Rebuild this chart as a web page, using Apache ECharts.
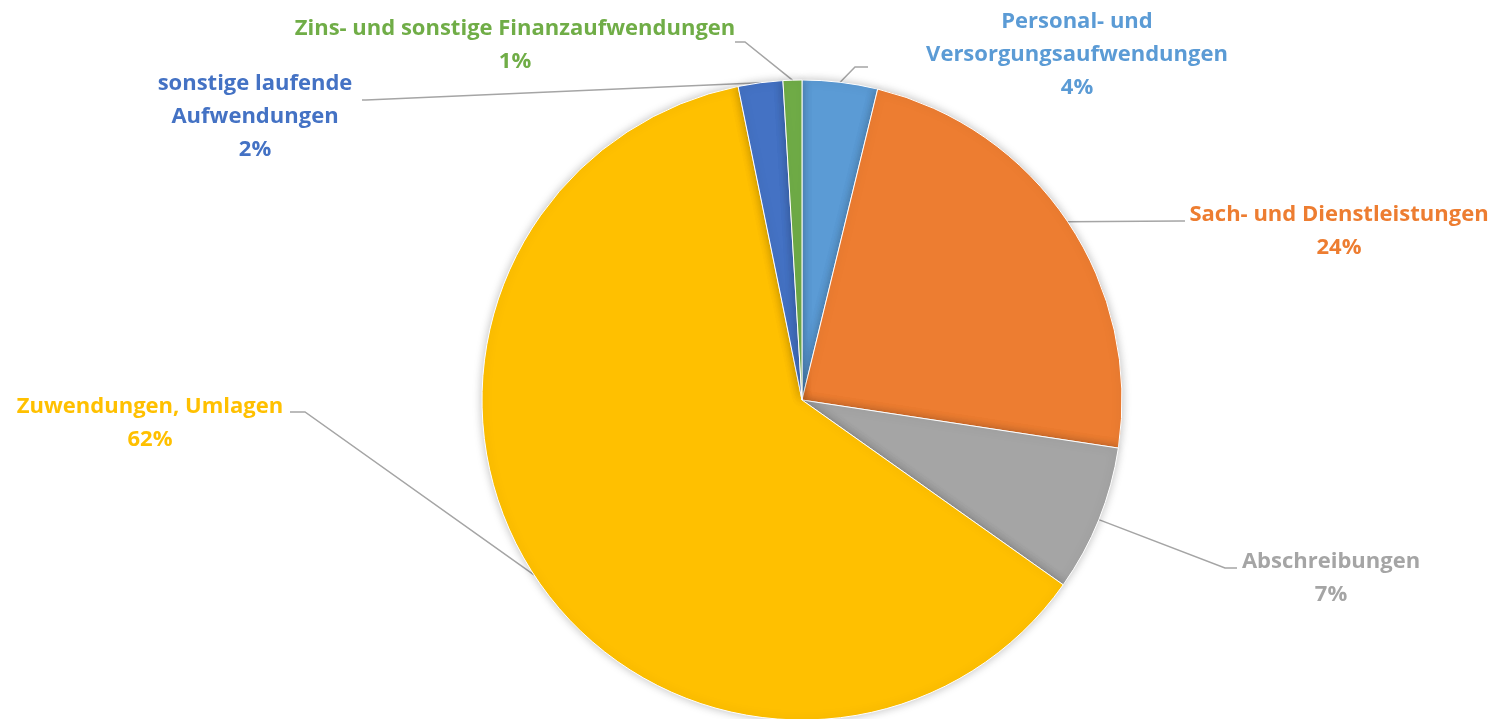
<!DOCTYPE html>
<html>
<head>
<meta charset="utf-8">
<script src="https://cdn.jsdelivr.net/npm/echarts@6/dist/echarts.min.js"></script>
<style>
  html, body { margin: 0; padding: 0; background: #fff; }
  #chart { width: 1492px; height: 719px; }
</style>
</head>
<body>
<div id="chart"></div>
<script>
// Kategorien (im Uhrzeigersinn ab 12 Uhr)
const categories = [
  'Personal- und\nVersorgungsaufwendungen',
  'Sach- und Dienstleistungen',
  'Abschreibungen',
  'Zuwendungen, Umlagen',
  'sonstige laufende\nAufwendungen',
  'Zins- und sonstige Finanzaufwendungen'
]
// Anteile in Prozent (aus dem Bild geschätzt)
const values = [3.8, 23.6, 7.4, 62.0, 2.25, 0.95]
const colors = ['#5B9BD5', '#ED7D31', '#A5A5A5', '#FFC000', '#4472C4', '#70AD47']

// Label-Positionen: Textmitte und Knickpunkte der Führungslinie
const labelPos = [
  { x: 1077, y: 55, bend: [855, 67], end: [868, 67] },
  { x: 1339, y: 231, bend: [1180, 221], end: [1185, 221] },
  { x: 1331, y: 578, bend: [1225, 568], end: [1237, 568] },
  { x: 150, y: 423, bend: [305, 412], end: [290, 412] },
  { x: 255, y: 117, bend: [366, 100], end: [362, 100] },
  { x: 515, y: 45, bend: [745, 42], end: [735, 42] }
]

const chart = echarts.init(document.getElementById('chart'))

const option = {
  animation: false,
  color: colors,
  series: [
    {
      type: 'pie',
      center: [802, 400],
      radius: 320,
      startAngle: 90,
      clockwise: true,
      data: categories.map((name, i) => ({ name, value: values[i] })),
      itemStyle: {
        borderColor: '#fff',
        borderWidth: 1,
        shadowBlur: 10,
        shadowColor: 'rgba(0, 0, 0, 0.25)'
      },
      label: {
        show: true,
        color: 'inherit',
        fontFamily: 'Open Sans',
        fontWeight: 'bold',
        fontSize: 22,
        lineHeight: 33,
        align: 'center',
        formatter: (p) => p.name + '\n' + Math.round(p.percent) + '%'
      },
      labelLine: {
        show: true,
        lineStyle: { color: '#A5A5A5', width: 1.5 }
      },
      labelLayout: (params) => {
        const pos = labelPos[params.dataIndex]
        const start = params.labelLinePoints ? params.labelLinePoints[0] : pos.bend
        return {
          x: pos.x,
          y: pos.y,
          align: 'center',
          verticalAlign: 'middle',
          labelLinePoints: [start, pos.bend, pos.end]
        }
      },
      emphasis: { disabled: true }
    }
  ]
}

chart.setOption(option)
window.addEventListener('resize', () => chart.resize())
</script>
</body>
</html>
